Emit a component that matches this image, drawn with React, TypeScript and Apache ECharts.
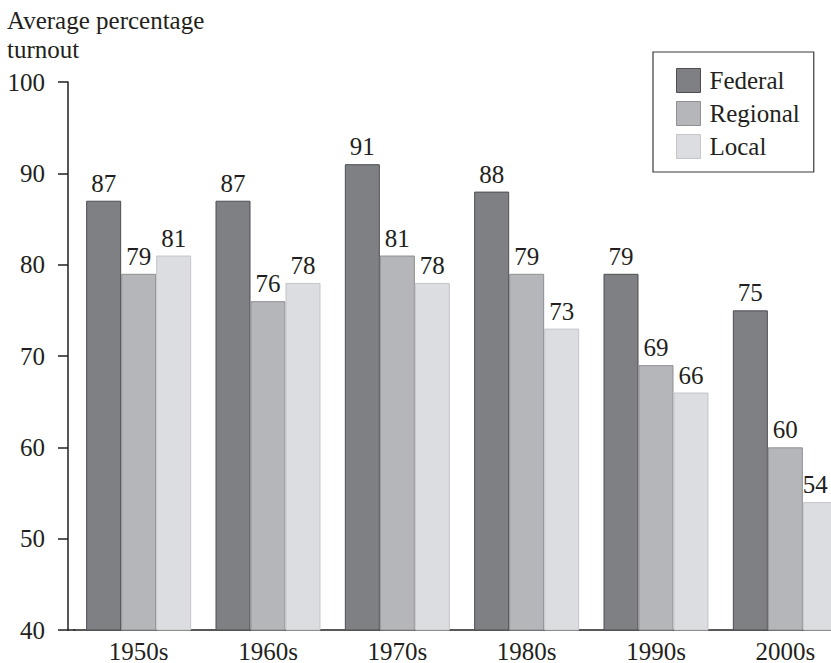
import React, { useEffect, useRef } from "react";
import * as echarts from "echarts";

// Decades shown along the x axis
const decades = ["1950s", "1960s", "1970s", "1980s", "1990s", "2000s"];

// Average percentage turnout per level of government
const federal = [87, 87, 91, 88, 79, 75];
const regional = [79, 76, 81, 79, 69, 60];
const local = [81, 78, 78, 73, 66, 54];

// Y axis range and step
const yMin = 40;
const yMax = 100;
const yStep = 10;

const SERIF = "Liberation Serif";
const TEXT = "#231f20";
const FS = 25;

export default function App() {
  const ref = useRef<HTMLDivElement>(null);

  useEffect(() => {
    if (!ref.current) return;
    const chart = echarts.init(ref.current, undefined, { renderer: "svg" });

    // the last bar sits at the right edge, so nudge its value label inward
    const withEdgeNudge = (data: number[], dx: number) =>
      data.map((v, i) =>
        i === data.length - 1 ? { value: v, label: { offset: [dx, 0] } } : v
      );

    const mkSeries = (name: string, data: any[], fill: string, border: string) => ({
      name,
      type: "bar",
      data,
      barWidth: 35,
      barGap: "0%",
      itemStyle: { color: fill, borderColor: border, borderWidth: 1 },
      label: {
        show: true,
        position: "top",
        distance: 5,
        color: TEXT,
        fontFamily: SERIF,
        fontSize: FS,
      },
    });

    chart.setOption({
      animation: false,
      backgroundColor: "#ffffff",
      textStyle: { fontFamily: SERIF },
      title: {
        text: "Average percentage\nturnout",
        left: 2,
        top: 1,
        textStyle: {
          fontFamily: SERIF,
          fontSize: FS,
          fontWeight: "normal",
          color: TEXT,
          lineHeight: 29,
        },
      },
      legend: {
        orient: "vertical",
        left: 653,
        top: 52,
        padding: [16, 14, 13, 23],
        itemWidth: 24,
        itemHeight: 24,
        itemGap: 8,
        itemStyle: { borderWidth: 1 },
        borderColor: "#3a3a3a",
        borderWidth: 1.2,
        selectedMode: false,
        icon: "rect",
        textStyle: { fontFamily: SERIF, fontSize: FS, color: TEXT, padding: [0, 0, 0, 4] },
        data: ["Federal", "Regional", "Local"],
      },
      grid: { left: 74, top: 82, width: 776, height: 548, outerBoundsMode: "none" },
      xAxis: {
        type: "category",
        data: decades,
        axisLine: { show: true, lineStyle: { color: "#231f20", width: 1.5 } },
        axisTick: { show: false },
        axisLabel: {
          margin: 11,
          lineHeight: 20,
          color: TEXT,
          fontFamily: SERIF,
          fontSize: FS,
        },
      },
      yAxis: {
        type: "value",
        min: yMin,
        max: yMax,
        interval: yStep,
        offset: 6,
        splitLine: { show: false },
        axisLine: { show: true, lineStyle: { color: "#231f20", width: 1.5 } },
        axisTick: { show: true, length: 10, lineStyle: { color: "#231f20", width: 1.5 } },
        axisLabel: {
          margin: 23,
          color: TEXT,
          fontFamily: SERIF,
          fontSize: FS,
        },
      },
      graphic: [
        {
          type: "line",
          shape: { x1: 67, y1: 630, x2: 75, y2: 630 },
          style: { stroke: "#231f20", lineWidth: 1.5 },
        },
      ],
      series: [
        mkSeries("Federal", federal, "#7f8084", "#4d4e52"),
        mkSeries("Regional", regional, "#b5b6ba", "#8e8f93"),
        mkSeries("Local", withEdgeNudge(local, -5), "#dcdde0", "#c4c5c8"),
      ],
    });

    return () => chart.dispose();
  }, []);

  return (
    <div
      ref={ref}
      style={{ position: "absolute", left: 0, top: 0, width: 831, height: 663 }}
    />
  );
}
